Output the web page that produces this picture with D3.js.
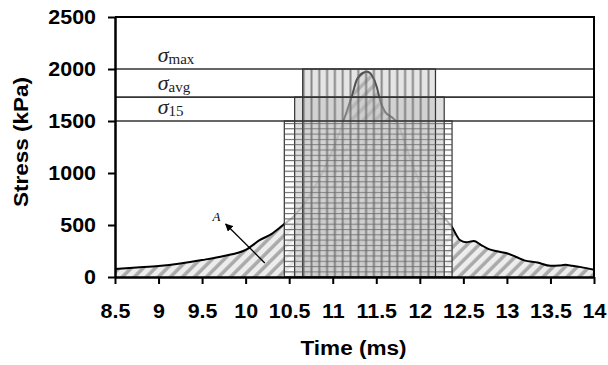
<!DOCTYPE html>
<html>
<head>
<meta charset="utf-8">
<title>Stress vs time</title>
<script src="https://cdn.jsdelivr.net/npm/d3@7"></script>
<style>
  body { margin: 0; background: #fff; }
  svg { display: block; }
</style>
</head>
<body>
<script>
  // stress record
  const timeMs = [8.5, 8.75, 9, 9.25, 9.5, 9.75, 10, 10.165, 10.3, 10.43, 10.547, 10.7, 10.816, 10.93,
    11.046, 11.14, 11.218, 11.275, 11.35, 11.397, 11.447, 11.505, 11.543, 11.6, 11.695, 11.753,
    11.83, 11.925, 12.04, 12.155, 12.27, 12.366, 12.46, 12.53, 12.62, 12.7, 12.8, 12.9, 13.0,
    13.1, 13.2, 13.35, 13.5, 13.6, 13.67, 13.75, 13.85, 14];
  const stressKPa = [78, 92, 106, 130, 163, 202, 260, 356, 415, 500, 580, 740, 901, 1093,
    1317, 1541, 1734, 1894, 1964, 1974, 1942, 1830, 1702, 1590, 1526, 1462,
    1285, 1061, 837, 676, 580, 484, 356, 335, 345, 310, 265, 245, 228,
    195, 160, 140, 108, 110, 117, 108, 95, 70];

  // stress levels and the pulse widths that go with them
  const bandNames = ['15', 'avg', 'max'];
  const bandLevel = [1500, 1730, 2000];
  const bandStart = [10.444, 10.563, 10.655];
  const bandEnd = [12.37, 12.28, 12.18];

  const xTicks = [8.5, 9, 9.5, 10, 10.5, 11, 11.5, 12, 12.5, 13, 13.5, 14];
  const yTicks = [0, 500, 1000, 1500, 2000, 2500];

  var width = 608,
    height = 365,
    margin = {top: 17, right: 14, bottom: 88, left: 115},
    plotW = width - margin.left - margin.right,
    plotH = height - margin.top - margin.bottom,
    stretch = 1.1;

  const x = d3.scaleLinear().domain([8.5, 14]).range([0, plotW]);
  const y = d3.scaleLinear().domain([0, 2500]).range([plotH, 0]);

  const svg = d3.select('body').append('svg')
    .attr('width', width)
    .attr('height', height);

  // fill patterns
  const defs = svg.append('defs');

  const hatch = defs.append('pattern')
    .attr('id', 'hatch')
    .attr('patternUnits', 'userSpaceOnUse')
    .attr('width', 8.5).attr('height', 8.5)
    .attr('patternTransform', 'rotate(45)');
  hatch.append('rect').attr('width', 8.5).attr('height', 8.5).attr('fill', '#ededed');
  hatch.append('line').attr('x1', 2).attr('x2', 2).attr('y1', 0).attr('y2', 8.5)
    .attr('stroke', '#a9a9a9').attr('stroke-width', 3.5);

  const hLines = defs.append('pattern')
    .attr('id', 'hlines')
    .attr('patternUnits', 'userSpaceOnUse')
    .attr('width', 10).attr('height', 5.3);
  hLines.append('rect').attr('width', 10).attr('height', 5.3).attr('fill', '#fff').attr('fill-opacity', 0.72);
  hLines.append('line').attr('x1', 0).attr('x2', 10).attr('y1', 0.5).attr('y2', 0.5)
    .attr('stroke', '#7a7a7a').attr('stroke-width', 1);

  // same lines without the white, laid over the other pulses
  const hLinesOnly = defs.append('pattern')
    .attr('id', 'hlines-only')
    .attr('patternUnits', 'userSpaceOnUse')
    .attr('width', 10).attr('height', 5.3);
  hLinesOnly.append('line').attr('x1', 0).attr('x2', 10).attr('y1', 0.5).attr('y2', 0.5)
    .attr('stroke', '#666').attr('stroke-opacity', 0.55).attr('stroke-width', 1);

  const vLines = defs.append('pattern')
    .attr('id', 'vlines')
    .attr('patternUnits', 'userSpaceOnUse')
    .attr('width', 7.8).attr('height', 10);
  vLines.append('rect').attr('width', 7.8).attr('height', 10).attr('fill', '#c0c0c0').attr('fill-opacity', 0.42);
  vLines.append('line').attr('x1', 1.5).attr('x2', 1.5).attr('y1', 0).attr('y2', 10)
    .attr('stroke', '#666').attr('stroke-opacity', 0.75).attr('stroke-width', 2);

  const g = svg.append('g')
    .attr('transform', 'translate(' + margin.left + ',' + margin.top + ')');

  const pts = timeMs.map((t, i) => [t, stressKPa[i]]);

  // hatched area under the record
  g.append('path')
    .datum(pts)
    .attr('d', d3.area().x(d => x(d[0])).y0(y(0)).y1(d => y(d[1])).curve(d3.curveMonotoneX))
    .attr('fill', 'url(#hatch)');

  g.append('path')
    .datum(pts)
    .attr('d', d3.line().x(d => x(d[0])).y(d => y(d[1])).curve(d3.curveMonotoneX))
    .attr('fill', 'none')
    .attr('stroke', '#000')
    .attr('stroke-width', 2);

  // equivalent rectangular pulses
  const bandFill = ['url(#hlines)', '#b8b8b8', 'url(#vlines)'];
  const bandOpacity = [1, 0.45, 1];
  bandNames.forEach((n, i) => {
    g.append('rect')
      .attr('x', x(bandStart[i]))
      .attr('y', y(bandLevel[i]))
      .attr('width', x(bandEnd[i]) - x(bandStart[i]))
      .attr('height', y(0) - y(bandLevel[i]))
      .attr('fill', bandFill[i])
      .attr('fill-opacity', bandOpacity[i])
      .attr('stroke', '#333')
      .attr('stroke-width', 1.2);
  });

  g.append('rect')
    .attr('x', x(bandStart[0]))
    .attr('y', y(bandLevel[0]))
    .attr('width', x(bandEnd[0]) - x(bandStart[0]))
    .attr('height', y(0) - y(bandLevel[0]))
    .attr('fill', 'url(#hlines-only)');

  // level lines across the plot
  g.selectAll('.level')
    .data(bandLevel)
    .join('line')
    .attr('x1', 0).attr('x2', plotW)
    .attr('y1', d => y(d)).attr('y2', d => y(d))
    .attr('stroke', '#333')
    .attr('stroke-width', 1.6);

  // sigma labels
  bandNames.forEach((n, i) => {
    const t = g.append('text')
      .attr('x', x(8.99))
      .attr('y', y(bandLevel[i]) - 7)
      .attr('font-family', 'Liberation Serif, Times New Roman, serif')
      .attr('fill', '#222');
    t.append('tspan').attr('font-style', 'italic').attr('font-size', 22).text('σ');
    t.append('tspan').attr('font-size', 15).attr('dy', 2).text(n);
  });

  // frame: top and right edges
  g.append('path')
    .attr('d', 'M0,0H' + plotW + 'V' + plotH)
    .attr('fill', 'none')
    .attr('stroke', '#000')
    .attr('stroke-width', 2);

  const axisFont = 'Liberation Sans, Arial, sans-serif';

  const yAxis = g.append('g')
    .call(d3.axisLeft(y).tickValues(yTicks).tickSize(7).tickSizeOuter(0).tickFormat(d3.format('d')));
  yAxis.selectAll('text')
    .attr('x', -19 / stretch)
    .attr('transform', 'scale(' + stretch + ',1)');

  const xAxis = g.append('g')
    .attr('transform', 'translate(0,' + plotH + ')')
    .call(d3.axisBottom(x).tickValues(xTicks).tickSize(7).tickSizeOuter(0).tickFormat(d => d));
  xAxis.selectAll('text')
    .attr('y', 27)
    .attr('transform', 'scale(' + stretch + ',1)');

  [yAxis, xAxis].forEach(a => {
    a.select('.domain').attr('stroke-width', 2.5);
    a.selectAll('.tick line').attr('stroke-width', 2);
    a.selectAll('text')
      .attr('font-family', axisFont)
      .attr('font-weight', 'bold')
      .attr('font-size', 19.5)
      .attr('fill', '#000');
  });

  // axis titles
  g.append('text')
    .attr('transform', 'translate(' + (plotW / 2 - 1) + ',' + (plotH + 78) + ') scale(' + stretch + ',1)')
    .attr('text-anchor', 'middle')
    .attr('font-family', axisFont)
    .attr('font-weight', 'bold')
    .attr('font-size', 20.5)
    .text('Time (ms)');

  g.append('text')
    .attr('transform', 'translate(' + (28 - margin.left) + ',' + (142 - margin.top) + ') rotate(-90) scale(' + stretch + ',1)')
    .attr('text-anchor', 'middle')
    .attr('font-family', axisFont)
    .attr('font-weight', 'bold')
    .attr('font-size', 20.5)
    .text('Stress (kPa)');

  // "A" marker with arrow pointing at the hatched area
  defs.append('marker')
    .attr('id', 'arrow')
    .attr('viewBox', '0 0 10 10')
    .attr('refX', 9).attr('refY', 5)
    .attr('markerWidth', 6).attr('markerHeight', 6)
    .attr('orient', 'auto')
    .append('path').attr('d', 'M0,0L10,5L0,10z').attr('fill', '#000');

  g.append('line')
    .attr('x1', x(10.22)).attr('y1', y(135))
    .attr('x2', x(9.77)).attr('y2', y(510))
    .attr('stroke', '#000')
    .attr('stroke-width', 1.3)
    .attr('marker-end', 'url(#arrow)');

  g.append('text')
    .attr('x', x(9.62))
    .attr('y', y(540))
    .attr('font-family', 'Liberation Serif, Times New Roman, serif')
    .attr('font-style', 'italic')
    .attr('font-size', 13)
    .text('A');
</script>
</body>
</html>
